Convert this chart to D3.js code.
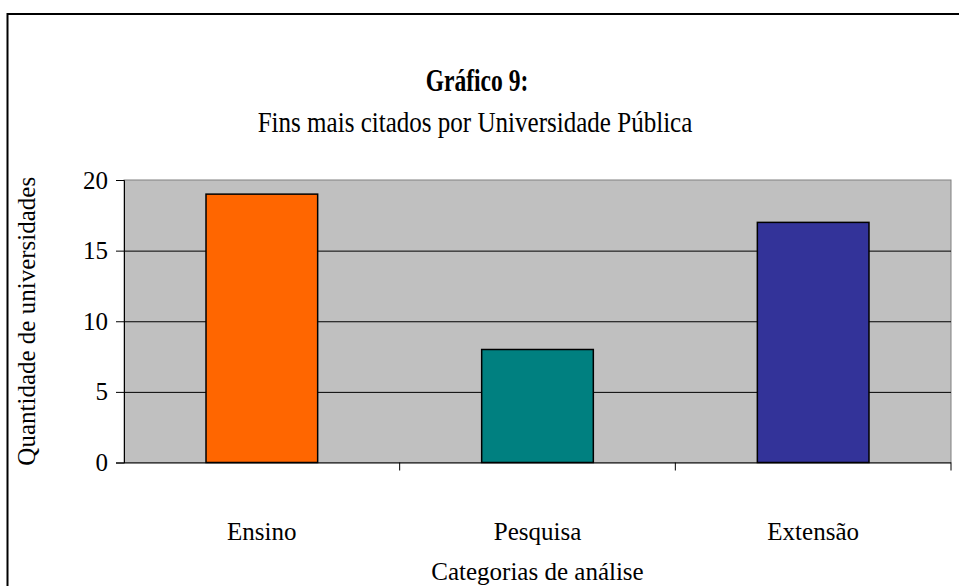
<!DOCTYPE html>
<html>
<head>
<meta charset="utf-8">
<script src="https://cdn.jsdelivr.net/npm/d3@7"></script>
<style>
  body { margin: 0; background: #fff; }
  text { font-family: "Liberation Serif", "Times New Roman", serif; fill: #000; }
</style>
</head>
<body>
<svg id="chart" width="959" height="586"></svg>
<script>
// Chart data
const categories = ["Ensino", "Pesquisa", "Extensão"];
const values = [19, 8, 17];
const barColors = ["#FF6600", "#008080", "#333399"];
const yTicks = [0, 5, 10, 15, 20];

// Plot area
let margin = {top: 180, right: 8, bottom: 123.5, left: 124};
let width = 959 - margin.left - margin.right;
let height = 586 - margin.top - margin.bottom;

let svg = d3.select("#chart");

// outer frame (runs off the right and bottom edges)
svg.append("rect")
    .attr("x", 7.5).attr("y", 14)
    .attr("width", 1000).attr("height", 700)
    .attr("fill", "none")
    .attr("stroke", "#000")
    .attr("stroke-width", 2);

// titles (condensed, like the original)
svg.append("text")
    .attr("transform", "translate(477, 91) scale(0.76, 1)")
    .attr("text-anchor", "middle")
    .style("font-size", "31px")
    .style("font-weight", "bold")
    .text("Gráfico 9:");

svg.append("text")
    .attr("transform", "translate(475, 132) scale(0.835, 1)")
    .attr("text-anchor", "middle")
    .style("font-size", "30px")
    .text("Fins mais citados por Universidade Pública");

let g = svg.append("g")
    .attr("transform", `translate(${margin.left}, ${margin.top})`);

let x = d3.scaleBand()
    .domain(categories)
    .range([0, width])
    .padding(0);

let y = d3.scaleLinear()
    .domain([0, 20])
    .range([height, 0]);

// plot background
g.append("rect")
    .attr("width", width).attr("height", height)
    .attr("fill", "#C0C0C0")
    .attr("stroke", "#808080")
    .attr("stroke-width", 1);

// gridlines
g.selectAll("line.grid")
    .data(yTicks.filter(d => d > 0 && d < 20))
  .enter().append("line")
    .attr("class", "grid")
    .attr("x1", 0).attr("x2", width)
    .attr("y1", d => y(d) + 0.5).attr("y2", d => y(d) + 0.5)
    .attr("stroke", "#000");

// bars
let barW = x.bandwidth() * 0.405;
g.selectAll("rect.bar")
    .data(values)
  .enter().append("rect")
    .attr("class", "bar")
    .attr("x", (d, i) => x(categories[i]) + x.bandwidth() / 2 - barW / 2)
    .attr("y", d => y(d))
    .attr("width", barW)
    .attr("height", d => height - y(d))
    .attr("fill", (d, i) => barColors[i])
    .attr("stroke", "#000")
    .attr("stroke-width", 1.5);

// y axis
let yAxis = g.append("g")
    .call(d3.axisLeft(y).tickValues(yTicks).tickSize(8).tickPadding(8));
yAxis.select(".domain").attr("stroke", "#000");
yAxis.selectAll(".tick line").attr("stroke", "#000");
yAxis.selectAll("text")
    .style("font-size", "25px")
    .style("font-family", "Liberation Serif, serif")
    .attr("fill", "#000");

// x axis: ticks at category boundaries
let xAxisG = g.append("g")
    .attr("transform", `translate(0, ${height})`);
xAxisG.append("line")
    .attr("x1", 0).attr("x2", width)
    .attr("y1", 0.5).attr("y2", 0.5)
    .attr("stroke", "#000");
xAxisG.selectAll("line.tick")
    .data(categories)
  .enter().append("line")
    .attr("class", "tick")
    .attr("x1", d => x(d) + x.bandwidth())
    .attr("x2", d => x(d) + x.bandwidth())
    .attr("y1", 0).attr("y2", 8)
    .attr("stroke", "#000");
xAxisG.selectAll("text.cat")
    .data(categories)
  .enter().append("text")
    .attr("class", "cat")
    .attr("x", d => x(d) + x.bandwidth() / 2)
    .attr("y", 77)
    .attr("text-anchor", "middle")
    .style("font-size", "25px")
    .text(d => d);

// axis titles
svg.append("text")
    .attr("x", margin.left + width / 2).attr("y", 580)
    .attr("text-anchor", "middle")
    .style("font-size", "25px")
    .text("Categorias de análise");

svg.append("text")
    .attr("transform", `translate(35, ${margin.top + height / 2}) rotate(-90)`)
    .attr("text-anchor", "middle")
    .style("font-size", "25px")
    .text("Quantidade de universidades");
</script>
</body>
</html>
